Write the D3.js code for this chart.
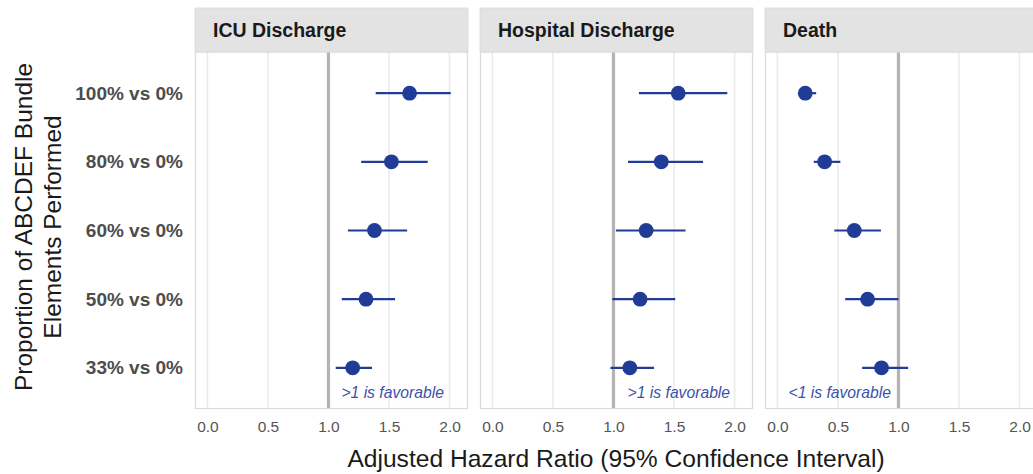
<!DOCTYPE html>
<html>
<head>
<meta charset="utf-8">
<script src="https://cdn.jsdelivr.net/npm/d3@7/dist/d3.min.js"></script>
<style>
  html, body { margin: 0; padding: 0; background: #fff; }
  svg { display: block; font-family: "Liberation Sans", Arial, sans-serif; }
</style>
</head>
<body>
<svg id="chart" width="1033" height="474"></svg>
<script>
// ---- data ----
const categories = ["100% vs 0%", "80% vs 0%", "60% vs 0%", "50% vs 0%", "33% vs 0%"];
const panels = ["ICU Discharge", "Hospital Discharge", "Death"];
const icuHR   = [1.67, 1.52, 1.38, 1.31, 1.20];
const icuLo   = [1.39, 1.27, 1.16, 1.11, 1.06];
const icuHi   = [2.01, 1.82, 1.65, 1.55, 1.36];
const hospHR  = [1.535, 1.395, 1.27, 1.22, 1.135];
const hospLo  = [1.21, 1.12, 1.02, 0.99, 0.975];
const hospHi  = [1.94, 1.74, 1.595, 1.51, 1.335];
const deathHR = [0.23, 0.39, 0.635, 0.745, 0.86];
const deathLo = [0.17, 0.30, 0.47, 0.56, 0.70];
const deathHi = [0.32, 0.52, 0.855, 1.00, 1.08];
const xTicks = [0, 0.5, 1, 1.5, 2];
const annotations = [">1 is favorable", ">1 is favorable", "<1 is favorable"];
const annotX = [1.53, 1.54, 0.515];

const series = [
  {hr: icuHR, lo: icuLo, hi: icuHi},
  {hr: hospHR, lo: hospLo, hi: hospHi},
  {hr: deathHR, lo: deathLo, hi: deathHi}
];

// ---- layout ----
const svg = d3.select("#chart");
const panelW = 273, gap = 12, firstLeft = 195;
const stripTop = 8, panelTop = 52, panelBottom = 409;
const dotColor = "#213c96";
const annColor = "#3b52aa";

const y = d3.scalePoint().domain(categories).range([panelTop, panelBottom]).padding(0.6);

panels.forEach((name, i) => {
  const left = firstLeft + i * (panelW + gap);
  const x = d3.scaleLinear().domain([-0.1025, 2.1525]).range([left, left + panelW]);
  const g = svg.append("g");

  g.append("rect").attr("x", left).attr("y", panelTop).attr("width", panelW)
    .attr("height", panelBottom - panelTop).attr("fill", "#fff");

  g.selectAll("line.grid").data(xTicks).enter().append("line")
    .attr("x1", d => x(d)).attr("x2", d => x(d))
    .attr("y1", panelTop).attr("y2", panelBottom)
    .attr("stroke", "#ebebeb").attr("stroke-width", 1.6);

  g.append("line").attr("x1", x(1)).attr("x2", x(1))
    .attr("y1", panelTop).attr("y2", panelBottom)
    .attr("stroke", "#b3b3b3").attr("stroke-width", 3.2);

  g.append("rect").attr("x", left + 0.5).attr("y", panelTop).attr("width", panelW - 1)
    .attr("height", panelBottom - panelTop - 0.5).attr("fill", "none")
    .attr("stroke", "#dadada").attr("stroke-width", 1.2);

  g.append("rect").attr("x", left).attr("y", stripTop).attr("width", panelW)
    .attr("height", panelTop - stripTop).attr("fill", "#e3e3e3")
    .attr("stroke", "#d9d9d9").attr("stroke-width", 0.8);
  g.append("text").attr("x", left + 18).attr("y", 37)
    .attr("font-size", 19.5).attr("font-weight", "bold").attr("fill", "#1a1a1a")
    .text(name);

  const s = series[i];
  const rows = categories.map((c, k) => ({c, hr: s.hr[k], lo: s.lo[k], hi: s.hi[k]}));

  g.selectAll("line.ci").data(rows).enter().append("line")
    .attr("x1", d => x(d.lo)).attr("x2", d => x(d.hi))
    .attr("y1", d => y(d.c)).attr("y2", d => y(d.c))
    .attr("stroke", dotColor).attr("stroke-width", 2.2);

  g.selectAll("circle.pt").data(rows).enter().append("circle")
    .attr("cx", d => x(d.hr)).attr("cy", d => y(d.c)).attr("r", 7.4)
    .attr("fill", dotColor);

  g.append("text").attr("x", x(annotX[i])).attr("y", 398)
    .attr("text-anchor", "middle").attr("font-size", 15.7)
    .attr("font-style", "italic").attr("fill", annColor)
    .text(annotations[i]);

  const ax = d3.axisBottom(x).tickValues(xTicks).tickFormat(d3.format(".1f")).tickSize(0).tickPadding(12);
  const axg = g.append("g").attr("transform", `translate(0,${panelBottom})`).call(ax);
  axg.select(".domain").remove();
  axg.selectAll("text").attr("font-size", 15.5).attr("fill", "#555")
    .attr("font-family", "Liberation Sans, Arial, sans-serif");
});

const ay = d3.axisLeft(y).tickSize(0).tickPadding(12);
const ayg = svg.append("g").attr("transform", `translate(${firstLeft},0)`).call(ay);
ayg.select(".domain").remove();
ayg.selectAll("text").attr("font-size", 19).attr("font-weight", "bold").attr("fill", "#4d4d4d")
  .attr("font-family", "Liberation Sans, Arial, sans-serif");

const yt = svg.append("text").attr("transform", "translate(0,227) rotate(-90)")
  .attr("text-anchor", "middle").attr("font-size", 24.5).attr("fill", "#1a1a1a");
yt.append("tspan").attr("x", 0).attr("y", 32).text("Proportion of ABCDEF Bundle");
yt.append("tspan").attr("x", 0).attr("y", 61).text("Elements Performed");

svg.append("text").attr("x", 616).attr("y", 467).attr("text-anchor", "middle")
  .attr("font-size", 24.6).attr("fill", "#1a1a1a")
  .text("Adjusted Hazard Ratio (95% Confidence Interval)");
</script>
</body>
</html>
